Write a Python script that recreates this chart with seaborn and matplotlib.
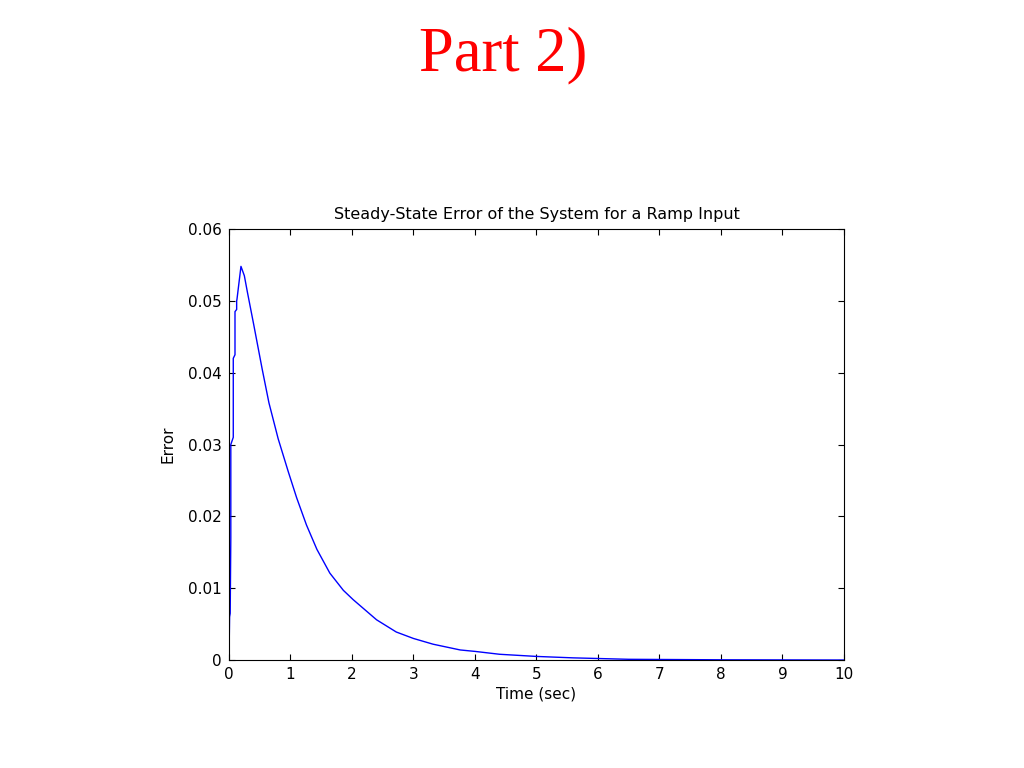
import matplotlib
matplotlib.use('Agg')
import matplotlib.pyplot as plt
import pandas as pd
import seaborn as sns

# Values (time in sec, error)
# the first few points repeat a time value to keep the staircase at the start
time_sec = [0.0, 0.01, 0.02, 0.03, 0.03, 0.07, 0.07, 0.098, 0.098, 0.125,
            0.125, 0.13, 0.195, 0.25, 0.3, 0.4, 0.54, 0.65, 0.8, 0.965, 1.1,
            1.26, 1.43, 1.64, 1.86, 2.02, 2.4, 2.72, 3.0, 3.32, 3.76, 4.0, 4.4,
            5.0, 5.6, 6.5, 8.0, 10.0]
error = [0.0, 0.006, 0.0065, 0.017, 0.030, 0.031, 0.042, 0.0425, 0.0485,
         0.0488, 0.050, 0.0502, 0.0548, 0.0535, 0.0512, 0.0468, 0.0405, 0.0358,
         0.0308, 0.0262, 0.0226, 0.0188, 0.0154, 0.0121, 0.0097, 0.0084, 0.0056,
         0.0039, 0.0030, 0.0022, 0.0014, 0.0012, 0.0008, 0.0005, 0.0003,
         0.0001, 0.00003, 0.0]

x_ticks = [0, 1, 2, 3, 4, 5, 6, 7, 8, 9, 10]
y_ticks = [0, 0.01, 0.02, 0.03, 0.04, 0.05, 0.06]
y_labels = ['0', '0.01', '0.02', '0.03', '0.04', '0.05', '0.06']

df = pd.DataFrame({'Time': time_sec, 'Error': error})

sns.set_style('ticks')
plt.rcParams['font.family'] = ['DejaVu Sans']
plt.rcParams['text.color'] = 'black'
plt.rcParams['axes.labelcolor'] = 'black'

fig = plt.figure(figsize=(10.24, 7.68), dpi=100)
fig.text(0.491, 0.928, 'Part 2)', color='#ff0000', fontsize=45,
         family=['Liberation Serif', 'DejaVu Serif'], ha='center', va='center')

ax = fig.add_axes([0.2236, 0.1406, 0.6006, 0.5612])
sns.lineplot(data=df, x='Time', y='Error', color='#0000ff', linewidth=1.0,
             ax=ax, estimator=None, sort=False)

ax.set_xlim(0, 10)
ax.set_ylim(0, 0.06)
ax.set_xticks(x_ticks)
ax.set_yticks(y_ticks)
ax.set_yticklabels(y_labels)
ax.tick_params(direction='in', top=True, right=True, length=4.5, width=0.8,
               labelsize=11, colors='black', pad=5)
for spine in ax.spines.values():
    spine.set_visible(True)
    spine.set_color('black')
    spine.set_linewidth(0.8)

ax.set_title('Steady-State Error of the System for a Ramp Input', fontsize=11.5,
             pad=7, color='black')
ax.set_xlabel('Time (sec)', fontsize=11, labelpad=3)
ax.set_ylabel('Error', fontsize=11, labelpad=9)

fig.savefig('out.png', dpi=100, facecolor='white')
